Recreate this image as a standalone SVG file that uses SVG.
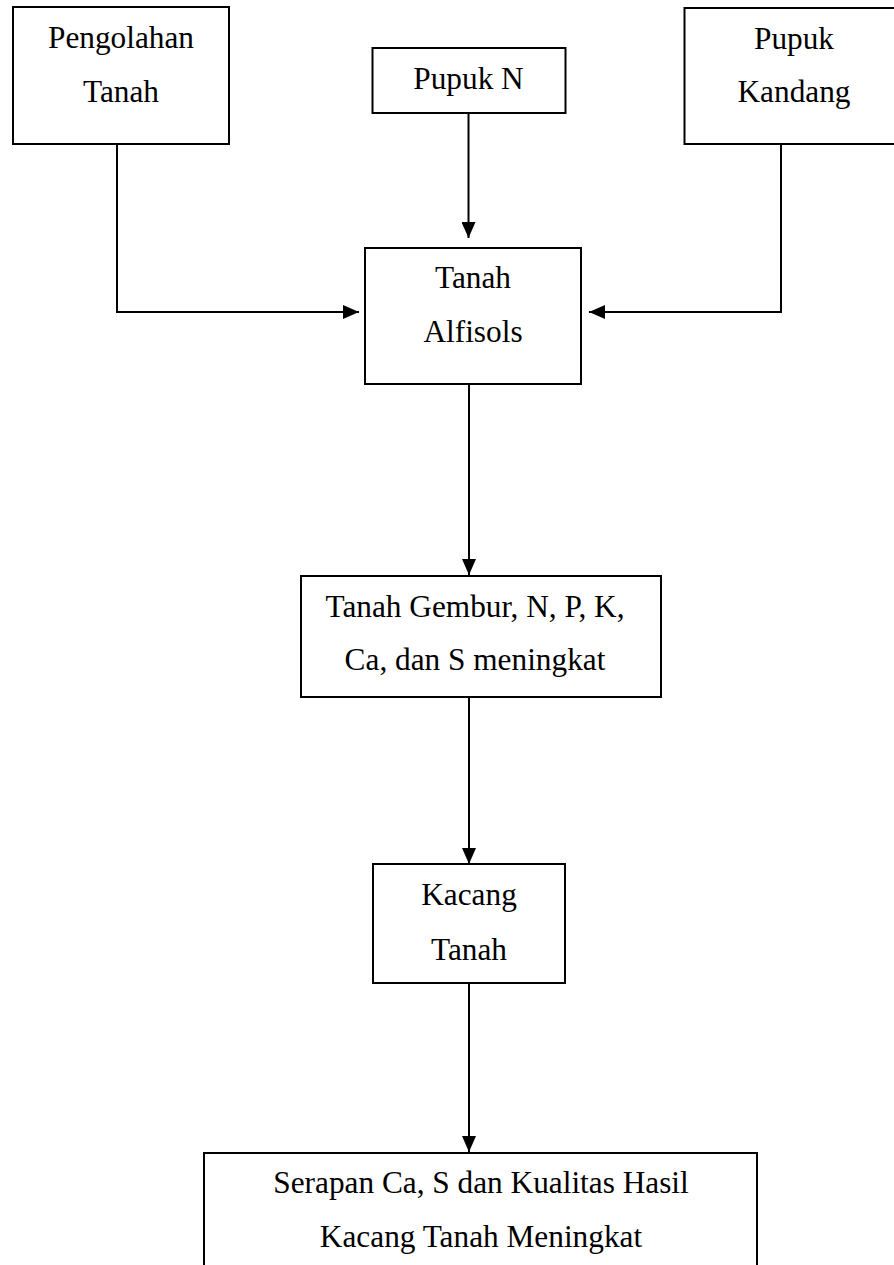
<svg xmlns="http://www.w3.org/2000/svg" width="894" height="1265" viewBox="0 0 894 1265">
<style>
.box{fill:#fff;stroke:#000;stroke-width:2}
.t{font-family:"Liberation Serif","Times New Roman",serif;font-size:31.3px;fill:#000;text-anchor:middle}
.c{fill:none;stroke:#000;stroke-width:2}
</style>
<defs>
<marker id="ah" markerUnits="userSpaceOnUse" markerWidth="16" markerHeight="14" refX="16" refY="7" orient="auto">
<path d="M0,0 L16,7 L0,14 Z" fill="#000"/>
</marker>
</defs>
<rect width="894" height="1265" fill="#fff"/>
<g id="connectors">
<path class="c" d="M117 144 V312 H359" marker-end="url(#ah)"/>
<path class="c" d="M468.5 113 V238" marker-end="url(#ah)"/>
<path class="c" d="M781 144 V312 H589" marker-end="url(#ah)"/>
<path class="c" d="M469 384 V575" marker-end="url(#ah)"/>
<path class="c" d="M469 697 V864" marker-end="url(#ah)"/>
<path class="c" d="M469 984 V1152" marker-end="url(#ah)"/>
</g>
<g id="n-pengolahan">
<rect class="box" x="13" y="7" width="216" height="137"/>
<text class="t" x="121" y="48">Pengolahan</text>
<text class="t" x="121" y="102">Tanah</text>
</g>
<g id="n-pupukn">
<rect class="box" x="372.5" y="48" width="193" height="65"/>
<text class="t" x="468.5" y="89">Pupuk N</text>
</g>
<g id="n-kandang">
<rect class="box" x="684.5" y="8" width="220" height="136"/>
<text class="t" x="794" y="49">Pupuk</text>
<text class="t" x="794" y="102">Kandang</text>
</g>
<g id="n-alfisols">
<rect class="box" x="365" y="248" width="216" height="136"/>
<text class="t" x="473" y="288">Tanah</text>
<text class="t" x="473" y="342">Alfisols</text>
</g>
<g id="n-gembur">
<rect class="box" x="301" y="576" width="360" height="121"/>
<text class="t" x="475" y="617">Tanah Gembur, N, P, K,</text>
<text class="t" x="475" y="670">Ca, dan S meningkat</text>
</g>
<g id="n-kacang">
<rect class="box" x="373" y="864" width="192" height="119"/>
<text class="t" x="469" y="905">Kacang</text>
<text class="t" x="469" y="960">Tanah</text>
</g>
<g id="n-serapan">
<rect class="box" x="204" y="1153" width="553" height="140"/>
<text class="t" x="481" y="1193">Serapan Ca, S dan Kualitas Hasil</text>
<text class="t" x="481" y="1247">Kacang Tanah Meningkat</text>
</g>
</svg>
